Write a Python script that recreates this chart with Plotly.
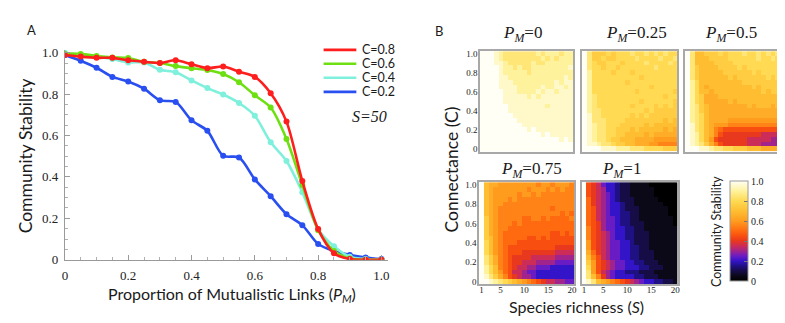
import plotly.graph_objects as go

W, H = 785, 323
SANS = "Lato, Open Sans, sans-serif"
SERIF = "Liberation Serif, Times New Roman, Times, DejaVu Serif, serif"


def px(x):
    return x / W


def py(y):
    return 1 - y / H


# ---------------- panel A: stability vs proportion of mutualistic links (S=50)
PM = [0.0, 0.05, 0.1, 0.15, 0.2, 0.25, 0.3, 0.35, 0.4, 0.45, 0.5,
      0.55, 0.6, 0.65, 0.7, 0.75, 0.8, 0.85, 0.9, 0.95, 1.0]
STAB_C08 = [0.989, 0.981, 0.975, 0.975, 0.963, 0.956, 0.950, 0.963, 0.944, 0.925, 0.933,
            0.908, 0.883, 0.804, 0.667, 0.380, 0.148, 0.031, 0.003, 0.0, 0.0]
STAB_C06 = [0.995, 0.994, 0.984, 0.977, 0.974, 0.956, 0.950, 0.935, 0.925, 0.916, 0.897,
            0.857, 0.794, 0.735, 0.583, 0.361, 0.143, 0.042, 0.006, 0.0, 0.0]
STAB_C04 = [1.0, 0.988, 0.981, 0.969, 0.953, 0.953, 0.917, 0.905, 0.866, 0.829, 0.798,
            0.757, 0.695, 0.567, 0.477, 0.326, 0.148, 0.065, 0.014, 0.003, 0.0]
STAB_C02 = [0.989, 0.961, 0.927, 0.883, 0.861, 0.826, 0.770, 0.762, 0.673, 0.623, 0.502,
            0.494, 0.388, 0.307, 0.220, 0.167, 0.076, 0.042, 0.023, 0.011, 0.003]
SERIES_LABELS = ["C=0.8", "C=0.6", "C=0.4", "C=0.2"]
SERIES_COLORS = ["#ff1e1e", "#6ee012", "#7ff0dc", "#2a4ff0"]
A_TICKS = [0, 0.2, 0.4, 0.6, 0.8, 1.0]
A_TICKTEXT = ["0", "0.2", "0.4", "0.6", "0.8", "1.0"]

# ---------------- panel B: heatmaps, species richness x connectance
SPECIES = [1, 2, 3, 4, 5, 6, 7, 8, 9, 10, 11, 12, 13, 14, 15, 16, 17, 18, 19, 20]
CONN = [0.0, 0.05, 0.1, 0.15, 0.2, 0.25, 0.3, 0.35, 0.4, 0.45, 0.5,
        0.55, 0.6, 0.65, 0.7, 0.75, 0.8, 0.85, 0.9, 0.95, 1.0]
# one char per cell, stability = index in LEVELS / 20; rows listed from C=1.0 down to C=0
LEVELS = "0123456789ABCDEFGHIJK"
PM_TITLES = ["0", "0.25", "0.5", "0.75", "1"]

GRID_PM0 = [
    "KKKJIHHHHHHHIHIIIHII",
    "KKKJIHHHHHHHHIHIHIII",
    "KKKJJIHHHHHIHHIIIIII",
    "KKKKJIIHIHHIIIIIIIIJ",
    "KKKKJIIIIIHIIIIIIIII",
    "KKKKJJIIIIIIIIIIIIJI",
    "KKKKJJJIIIIIIIIIJIJJ",
    "KKKKJJJJIIIIIJIIJJIJ",
    "KKKKKJJJIIIIJIJJIJJJ",
    "KKKKKJJJJJIJIJJJJJJJ",
    "KKKKKJJJJJJJJJJJJJJJ",
    "KKKKKKJJJJJJJJIJJJJJ",
    "KKKKKKJJJJJJJJJJJJJJ",
    "KKKKKKKJJJJJJJJJJJJJ",
    "KKKKKKKKJJJJJJJJJJJJ",
    "KKKKKKKKKJJJJJJJJJJJ",
    "KKKKKKKKKKJKJJJJJJJJ",
    "KKKKKKKKKKKKKJKJJJJJ",
    "KKKKKKKKKKKKKKKKKJKJ",
    "KKKKKKKKKKKKKKKKKKKK",
    "KKKKKKKKKKKKKKKKKKKK",
]
GRID_PM25 = [
    "KHFFFGFGGGHGGHGHGHGG",
    "KHFFGFFGGGGHGGGGHGGH",
    "KHGFFGGGFGGGGHGGGGHG",
    "KHGGFGGFGGGGGGGHGGGG",
    "KIGGGGFGGGFGGGGGGGGG",
    "KIGGGGGGGGGGFGGGGGGG",
    "KIGGGGGGGFGGGGGGGGGG",
    "KIGGGGGGGGGGGGFGGGGG",
    "KIGGGGGGGGGFGGGGGGGF",
    "KIHGGGGGGGGGGGGGGFGG",
    "KIHGGGGGGGGGFGGGGGGF",
    "KIHGGGGGGGFGGGGFGFGF",
    "KIHHGGGGGGGGGFGFFFFF",
    "KJHHGGGGGGFGFGFFFFFF",
    "KJHHHGGGGFFFFFFFFEFE",
    "KJIHHGGGFFFFFEFEEEEE",
    "KJIHHGGFFFEFEEEEEDED",
    "KJIHHGGFFEEEEDEDDDDD",
    "KJIHHGFFEEEDDDDCCCCC",
    "KJJIHHGFFEEDDDCCBBBB",
    "KKKKJJJIIIHHHGGGGFFF",
]
GRID_PM50 = [
    "KHEEFFFGFGGGHGGHGHGH",
    "KHEEEFFFFGGGGGGHGGHG",
    "KHEEEEFFFFGGGGGGGGGG",
    "KHFEEEEFFFFGFGGGGGGG",
    "KHFEEEEEFFFFFFGFGGGG",
    "KHFEEEEEEFEFFFFFFGFG",
    "KIGEEEEEEEEEFFFFFFFF",
    "KIGEDEEEEEEEEEFEFFFF",
    "KIGEEDEEEEEEEEEEFEFF",
    "KIGFDDDEEEEEEEEEEEEE",
    "KIGFDDDDDEDEEEEEEEEE",
    "KIHFEDDDDDDDDEDEEEDE",
    "KIHFEDDDDDDDDDDDDDDD",
    "KIHGEDDDDDDDDDDDDDDD",
    "KIHGEDDDDCCCCCCCCCCC",
    "KJHGEDCCCBBBBBBBBBBB",
    "KJHGEDBA999999999999",
    "KJIGEDB9888888887777",
    "KJIGEC98888887777766",
    "KJIHFDB9888887776666",
    "KKKJJIHHGGFFFEEEDDDD",
]
GRID_PM75 = [
    "KEDDCCCCCCCCBCCBCCCB",
    "KEDCCCCCCCBCCCBCBCBB",
    "KEDCCCCCBCCBCBBBBBBB",
    "KEDCCCBCBBBBBBBBBBBB",
    "KEDCCBBBBBBBBBBBBBBB",
    "KEDCBBBBBBBBBBBABBBB",
    "KEDCBBBBBBBBBBBBBABA",
    "KFDCBBBBBAABBABAAAAB",
    "KFDCBBBABAAAAAAAAAAA",
    "KFDCBBAAAAAAAAAAAAAA",
    "KFDCBAAAAAAAAAA99A9A",
    "KFECBAAAAA99A9A99999",
    "KGECBAAA999999999999",
    "KGECBA99999999998888",
    "KGECBA99988888887777",
    "KHFDBA98888777776666",
    "KHFDBA98877766665555",
    "KIGEBA98776655544444",
    "KIGECA97765544444444",
    "KJHFDB98766544444444",
    "KKJIHGFEDCBA98776655",
]
GRID_PM100 = [
    "K9875443221111000000",
    "K9876443221111100000",
    "K9876543221111100000",
    "KA876543222111110000",
    "KA876544322111111000",
    "KA976544322211111100",
    "KA976544332211111100",
    "KA976554332211111110",
    "KA986554332221111110",
    "KB986554433221111111",
    "KB987654433222111111",
    "KB987654433222111111",
    "KC987655443222111111",
    "KC987655443322111111",
    "KDA87655443322211111",
    "KEB97655443322211111",
    "KFC98765544332221111",
    "KGC98765544433222111",
    "KHC97654433322211111",
    "KHEB8654444332221111",
    "KJHEDCBA987654433221",
]
GRIDS = [GRID_PM0, GRID_PM25, GRID_PM50, GRID_PM75, GRID_PM100]

# approximation of Mathematica "SunsetColors"
SUNSET = [
    [0.00, "#000000"], [0.05, "#0b0818"], [0.10, "#160c46"], [0.15, "#1f1084"],
    [0.20, "#3414c8"], [0.25, "#6a1cc4"], [0.30, "#a0248c"], [0.35, "#cc2c58"],
    [0.40, "#e8381e"], [0.45, "#f84e10"], [0.50, "#ff6a10"], [0.60, "#ff9c1e"],
    [0.70, "#ffbe32"], [0.80, "#ffda52"], [0.90, "#fff29c"], [1.00, "#fffff6"],
]


def decode(grid):
    rows = []
    for r in grid[::-1]:
        assert len(r) == 20, r
        rows.append([LEVELS.index(ch) / 20 for ch in r])
    return rows


fig = go.Figure()

# panel A lines (blue underneath, red on top)
for label, color, ys in list(zip(SERIES_LABELS, SERIES_COLORS,
                                 [STAB_C08, STAB_C06, STAB_C04, STAB_C02]))[::-1]:
    fig.add_trace(go.Scatter(
        x=PM, y=ys, mode="lines+markers", name=label,
        line=dict(color=color, width=2.6, shape="spline", smoothing=0.8),
        marker=dict(color=color, size=6),
        showlegend=False, xaxis="x", yaxis="y",
    ))

# panel B heatmaps
# pixel boxes (left, right, top, bottom) of each heatmap
BOXES = [
    (472.7, 566.7, 40.7, 145.0),
    (575.7, 671.3, 40.7, 145.0),
    (679.3, 775.0, 40.7, 145.0),
    (471.7, 567.7, 176.7, 282.5),
    (575.0, 671.7, 176.7, 282.5),
]
for i, grid in enumerate(GRIDS):
    fig.add_trace(go.Heatmap(
        z=decode(grid), x=SPECIES, y=CONN, coloraxis="coloraxis",
        xaxis=f"x{i + 2}", yaxis=f"y{i + 2}", showscale=False,
    ))

layout = dict(
    width=W, height=H, autosize=False,
    margin=dict(l=0, r=0, t=0, b=0),
    paper_bgcolor="white", plot_bgcolor="white",
    showlegend=False,
    font=dict(family=SANS, color="#222"),
)

a_axis = dict(
    showline=True, linecolor="#9a9a9a", linewidth=1, showgrid=False, zeroline=False,
    ticks="inside", ticklen=5, tickcolor="#9a9a9a", tickwidth=1,
    tickvals=A_TICKS, ticktext=A_TICKTEXT,
    tickfont=dict(family=SERIF, size=13, color="#222"),
    minor=dict(dtick=0.05, ticks="inside", ticklen=3, tickcolor="#b0b0b0"),
)
layout["xaxis"] = dict(a_axis, domain=[px(54.3), px(379.7)], range=[0, 1.02],
                       anchor="y", ticklabelstandoff=4)
layout["yaxis"] = dict(a_axis, domain=[py(257.3), py(39)], range=[0, 1.015],
                       anchor="x", ticklabelstandoff=3)

for i, (l, r, t, b) in enumerate(BOXES):
    k = i + 2
    layout[f"xaxis{k}"] = dict(
        domain=[px(l), px(r)], range=[0.5, 20.5], anchor=f"y{k}",
        showline=True, mirror=True, linecolor="#a8a8a8", linewidth=1.5,
        showgrid=False, zeroline=False, ticks="", ticklen=0, ticklabelstandoff=-4,
        tickvals=[1, 5, 10, 15, 20], showticklabels=i >= 3,
        tickfont=dict(family=SERIF, size=9, color="#222"),
    )
    layout[f"yaxis{k}"] = dict(
        domain=[py(b), py(t)], range=[-0.025, 1.025], anchor=f"x{k}",
        showline=True, mirror=True, linecolor="#a8a8a8", linewidth=1.5,
        showgrid=False, zeroline=False, ticks="", ticklen=0, ticklabelstandoff=-1,
        tickvals=A_TICKS, ticktext=A_TICKTEXT, showticklabels=i in (0, 3),
        tickfont=dict(family=SERIF, size=9, color="#222"),
    )

layout["coloraxis"] = dict(
    colorscale=SUNSET, cmin=0, cmax=1,
    colorbar=dict(
        x=px(725), xanchor="left", y=py(279.5), yanchor="bottom",
        len=(279.5 - 176) / H, lenmode="fraction",
        thickness=18, thicknessmode="pixels", xpad=0, ypad=0,
        outlinewidth=1, outlinecolor="#9a9a9a",
        tickvals=A_TICKS, ticktext=A_TICKTEXT, ticks="inside", ticklen=4,
        tickcolor="#777", tickfont=dict(family=SERIF, size=10, color="#222"),
    ),
)

ann = []


def add_text(text, x, y, size, family=SANS, angle=0, xanchor="center"):
    ann.append(dict(text=text, x=px(x), y=py(y), xref="paper", yref="paper",
                    showarrow=False, xanchor=xanchor, yanchor="middle",
                    textangle=angle, font=dict(family=family, size=size, color="#1a1a1a")))


add_text("A", 20.5, 19, 13)
add_text("B", 431, 19.5, 13)
add_text("Community Stability", 15, 149, 17.5, angle=-90)
add_text("Proportion of Mutualistic Links (<i>P</i><sub><i>M</i></sub>)", 223, 293, 16)
add_text("<i>S=50</i>", 361, 109, 16, family=SERIF)

shapes = []
leg_y = [39.3, 53.8, 68.3, 83.0]
for label, color, yy in zip(SERIES_LABELS, SERIES_COLORS, leg_y):
    shapes.append(dict(type="line", xref="paper", yref="paper",
                       x0=px(315), x1=px(348), y0=py(yy), y1=py(yy),
                       line=dict(color=color, width=2.6)))
    add_text(label, 352, yy, 12.5, xanchor="left")

title_pos = [(515, 23), (630, 23), (726, 23), (525, 164), (615, 164)]
for t, (x, y) in zip(PM_TITLES, title_pos):
    add_text(f"<i>P</i><sub><i>M</i></sub>={t}", x, y, 17, family=SERIF)

add_text("Connectance (C)", 444, 164, 17.5, angle=-90)
add_text("Species richness (<i>S</i>)", 570, 306, 16)
add_text("Community Stability", 711, 228, 12.5, angle=-90)

layout["annotations"] = ann
layout["shapes"] = shapes
fig.update_layout(**layout)

fig.write_html("out.html")
